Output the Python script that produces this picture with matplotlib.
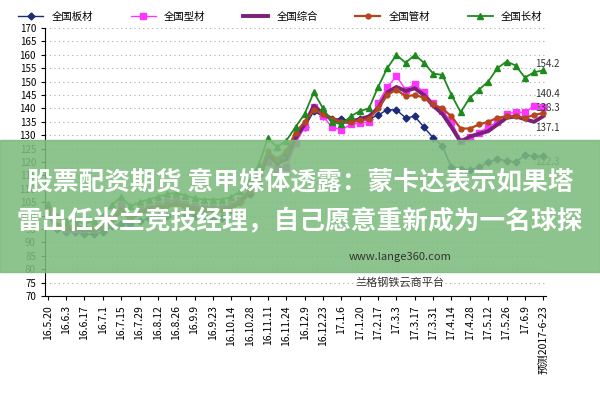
import matplotlib
matplotlib.use("Agg")
from matplotlib import pyplot as plt
from matplotlib.patches import Rectangle

plt.rcParams['font.family'] = ['Noto Sans CJK SC', 'DejaVu Sans']

tick_labels = ['16.5.20', '16.6.3', '16.6.17', '16.7.1', '16.7.15', '16.7.29', '16.8.12',
               '16.8.26', '16.9.9', '16.9.23', '16.10.14', '16.10.28', '16.11.11', '16.11.24',
               '16.12.9', '16.12.23', '17.1.6', '17.1.20', '17.2.17', '17.3.3', '17.3.17',
               '17.3.31', '17.4.14', '17.4.28', '17.5.12', '17.5.26', '17.6.9', '预测2017-6-23']

plate = [103, 95, 94, 94, 93, 93, 94, 96, 97, 97, 98, 99, 100, 100, 101, 101, 100, 100, 99, 99,
         102, 105, 108, 112, 122, 120, 123, 130, 133, 139, 137, 136, 136, 135.5, 136, 136, 137.5,
         139.5, 139.4, 136.5, 137, 133, 129, 126, 118, 117.5, 117, 118, 120, 121, 120.5, 120,
         122.5, 122.3, 122.3]
section = [102, 96, 95, 95, 95, 95, 96, 99, 104, 100, 102, 103, 104, 105, 106, 104.5, 103.5, 103,
           103, 103, 104, 106, 110, 116, 120, 117.5, 118, 127, 133, 140.5, 137, 133, 132, 134,
           134.5, 135, 142, 148, 152, 147, 149, 146, 142, 139, 135, 128, 129.5, 131, 133, 135,
           138, 138.5, 138.5, 141, 140.4]
overall = [101, 95.5, 95, 95, 94.5, 94.5, 95.5, 98, 102, 99, 101, 102, 103, 103.5, 104.5, 103.5,
           102.5, 102, 102, 102, 103, 105, 109, 114, 123, 119.5, 121, 129, 134, 141, 138, 136,
           135, 135, 136, 137, 140, 146, 148, 146.5, 147.5, 145, 141, 138, 133, 127.5, 129.5,
           130.5, 131.5, 134, 136.5, 137, 136, 135, 137.1]
pipe = [102, 96.5, 96, 96, 95.5, 95.5, 96.5, 99, 102, 100, 101.5, 102.5, 103, 104, 104.5, 103.5,
        102.5, 102, 102, 102, 103, 105, 109, 115, 124, 121, 124, 131, 135, 139.5, 138, 136, 135,
        135, 135.5, 136, 140, 145, 147, 144.5, 145, 144, 141.5, 140, 137, 132.5, 132.5, 134,
        135, 136.5, 137, 137, 136.5, 137.5, 138.3]
long_ = [104.5, 100, 98, 98, 97, 98, 100, 104, 107, 103.5, 105, 106, 107, 108, 108.5, 107.5,
         106.5, 106, 106, 106, 107, 109, 113, 119, 129, 125.5, 128, 133, 138, 146, 140, 135,
         134, 137, 139, 140, 148, 155, 160, 157, 160, 157, 153, 152.5, 145, 138.6, 144, 147,
         150, 155, 157.5, 156, 151.5, 153.5, 154.2]

x = list(range(len(plate)))

fig = plt.figure(figsize=(6, 4), dpi=100)
ax = fig.add_axes([0.075, 0.26, 0.835, 0.67])

ax.plot(x, plate, color='#1c2a78', lw=1, marker='D', ms=3.5, label='全国板材')
ax.plot(x, section, color='#ff33ff', lw=1, marker='s', ms=4, label='全国型材')
ax.plot(x, overall, color='#7b1f7b', lw=2.8, label='全国综合')
ax.plot(x, pipe, color='#b5451b', lw=1.6, marker='o', ms=3.5, label='全国管材')
ax.plot(x, long_, color='#1e8a1e', lw=1.3, marker='^', ms=4.5, label='全国长材')

# end-value labels, nudged apart as in the source
for v, dy in [(long_[-1], 1.2), (section[-1], 4.0), (pipe[-1], 0.8),
              (overall[-1], -5.5), (plate[-1], -3.5)]:
    ax.text(x[-1] - 0.9, v + dy, '%.1f' % v, fontsize=7, color='#333333')

ax.set_xlim(-0.3, len(x) - 0.7)
ax.set_ylim(70, 170)
ax.set_yticks(range(70, 171, 5))
ax.set_xticks(x[::2])
ax.set_xticklabels(tick_labels, rotation=90, fontsize=7.5)
ax.tick_params(axis='y', labelsize=7, length=3)
ax.tick_params(axis='x', length=3)
ax.grid(axis='y', linestyle=(0, (1, 3)), color='#aaaaaa', lw=0.8)
for s in ['top', 'right']:
    ax.spines[s].set_visible(False)

ax.legend(loc='lower center', bbox_to_anchor=(0.47, 1.0), ncol=5, frameon=False,
          fontsize=7.5, handlelength=2.4, columnspacing=3.6, borderaxespad=0.2)

fig.patches.append(Rectangle((0, 0.32), 1, 0.33, transform=fig.transFigure,
                             color='#7dbb7d', alpha=0.88, zorder=5))
fig.text(0.667, 0.35, 'www.lange360.com', fontsize=8, color='#333333', ha='center', zorder=7)
fig.text(0.667, 0.285, '兰格钢铁云商平台', fontsize=8, color='#333333', ha='center')
fig.text(0.5, 0.545, '股票配资期货 意甲媒体透露：蒙卡达表示如果塔', fontsize=18.5, color='white',
         weight='bold', ha='center', va='center', zorder=6)
fig.text(0.5, 0.445, '雷出任米兰竞技经理，自己愿意重新成为一名球探', fontsize=18.5, color='white',
         weight='bold', ha='center', va='center', zorder=6)

fig.savefig('out.png', dpi=100)
